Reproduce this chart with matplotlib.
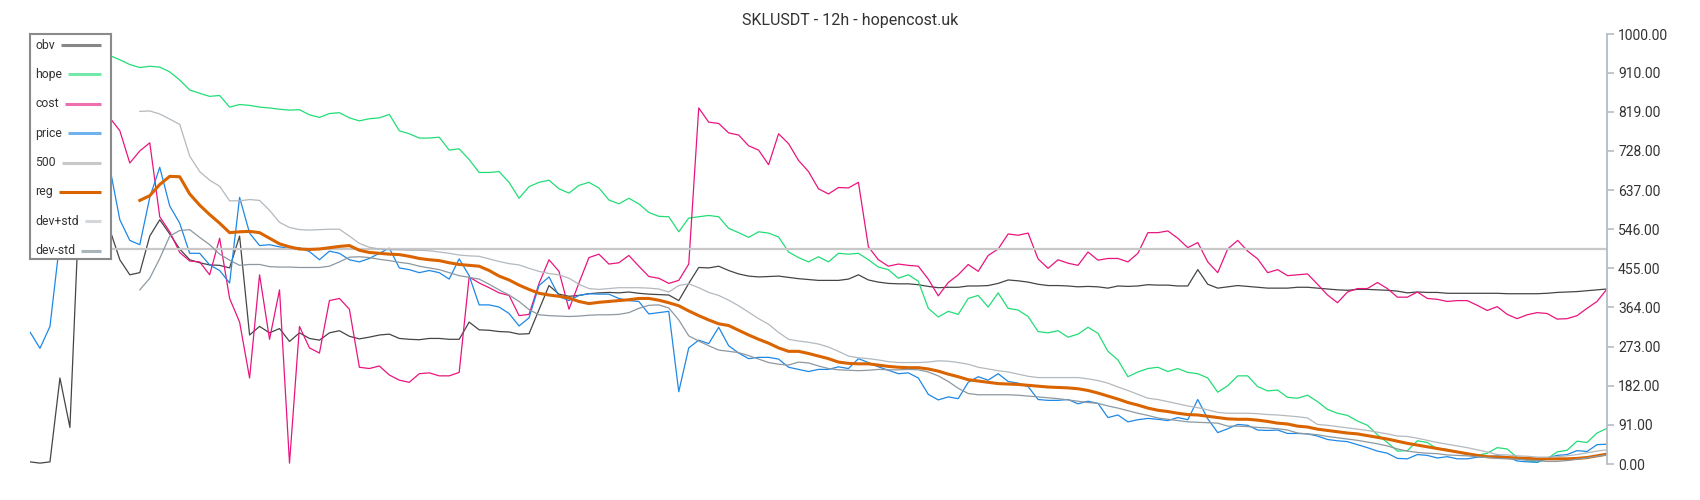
import numpy as np
import matplotlib.pyplot as plt

plt.rcParams['font.family'] = ['Roboto', 'DejaVu Sans']

title = "SKLUSDT - 12h - hopencost.uk"
nan = np.nan

# valores (un punto cada ~10 px)
obv = [5, 2, 5, 200, 85, 640, 700, 620, 545,
       475, 440, 445, 530, 568, 535, 500, 475, 468, 463, 462, 456, 530, 300, 320, 305, 315, 285, 305, 292, 288, 305, 310,
       297, 291, 295, 300, 302, 292, 290, 289, 292, 292, 290, 290, 330, 312, 311, 308, 307, 302, 303, 359,
       415, 395, 390, 392, 396, 398, 399, 398, 400, 397, 395, 394,
       393, 380, 420, 457, 456, 460, 450, 442, 437, 435, 436, 437, 434, 431, 429, 427, 427, 427, 430, 440,
       428, 423, 420, 419, 419, 417, 413, 410, 411, 411, 414,
       414, 415, 420, 428, 426, 423, 418, 415, 415, 414, 412, 413, 412, 409, 414, 413, 414, 417, 416, 416,
       414, 414, 452, 418, 409, 412, 415, 413, 411, 409, 409, 409,
       411, 411, 409, 407, 405, 404, 406, 406, 405, 404, 402, 398, 400, 399, 399, 397, 397, 397, 397, 397,
       397, 396, 396, 396, 396, 397, 399, 400, 401, 403, 405, 407]

hope = [990, 985, 980, 975, 970, 966, 962, 958, 950,
        940, 929, 922, 925, 923, 912, 893, 870, 862, 855, 857, 830, 836, 834, 830, 828, 825, 823, 824, 812, 806, 815, 817,
        805, 798, 803, 805, 813, 775, 768, 758, 758, 760, 730, 733, 708, 678, 678, 680, 655, 618, 645, 655,
        660, 640, 630, 648, 655, 642, 614, 605, 618, 605, 585, 576,
        575, 540, 572, 575, 578, 575, 548, 538, 527, 540, 537, 528, 493, 480, 470, 482, 470, 490, 488, 490,
        475, 458, 452, 432, 440, 425, 362, 342, 355, 348, 385,
        392, 365, 398, 362, 358, 343, 308, 305, 310, 295, 302, 318, 304, 262, 242, 203, 214, 222, 225, 215,
        222, 213, 210, 200, 167, 182, 205, 205, 180, 170, 172, 155,
        153, 160, 145, 127, 118, 113, 100, 90, 68, 50, 30, 31, 54, 50, 35, 34, 28, 22, 20, 25,
        38, 35, 15, 8, 4, 12, 28, 32, 53, 50, 72, 83]

cost = [880, 875, 870, 862, 855, 845, 835, 822, 805,
        775, 700, 728, 747, 575, 540, 492, 472, 470, 440, 525, 385, 330, 200, 440, 290, 405, 2, 320, 270, 258, 380, 385,
        360, 225, 222, 228, 207, 195, 190, 210, 212, 205, 205, 213, 435, 421, 410, 398, 392, 345, 348, 420,
        475, 448, 360, 421, 480, 488, 465, 468, 485, 460, 436, 432,
        420, 427, 465, 828, 795, 792, 770, 765, 740, 730, 696, 768, 745, 706, 680, 640, 628, 643, 642, 655,
        505, 475, 460, 465, 462, 460, 430, 391, 422, 440, 464,
        448, 485, 500, 535, 532, 537, 477, 455, 475, 467, 462, 493, 474, 478, 478, 470, 490, 538, 538, 542,
        525, 503, 515, 470, 445, 500, 520, 495, 477, 445, 452, 438,
        440, 442, 418, 393, 375, 400, 408, 408, 422, 408, 388, 388, 400, 385, 383, 378, 380, 380, 369, 357,
        366, 348, 338, 347, 352, 350, 337, 338, 345, 362, 378, 407]

price = [307, 269, 320, 520, 600, 680, 710, 700, 689,
         568, 520, 510, 620, 690, 600, 560, 490, 490, 463, 450, 421, 620, 537, 508, 510, 505, 501, 503, 494, 475, 495, 490,
         475, 470, 478, 490, 502, 456, 452, 445, 450, 445, 430, 477, 438, 370, 370, 365, 350, 321, 340, 415,
         435, 390, 380, 392, 396, 395, 395, 385, 380, 378, 349, 352,
         355, 168, 270, 288, 280, 318, 275, 258, 245, 248, 248, 244, 225, 220, 215, 220, 220, 226, 222, 245,
         236, 226, 218, 210, 212, 200, 162, 149, 156, 152, 190,
         203, 195, 210, 192, 188, 180, 150, 148, 148, 150, 140, 146, 141, 108, 114, 98, 103, 106, 104, 101,
         108, 103, 150, 105, 73, 82, 92, 90, 79, 78, 79, 71,
         71, 70, 65, 57, 54, 52, 45, 38, 30, 25, 13, 12, 22, 20, 14, 17, 12, 12, 16, 17,
         19, 17, 7, 5, 4, 14, 20, 22, 31, 29, 45, 46]

level_500 = 500

reg = [nan] * 11 + [
    613, 624, 650, 669, 668, 628, 602, 580, 560, 538, 540, 541, 538, 525, 512, 505, 500, 499, 500, 503, 506,
    508, 497, 492, 490, 488, 487, 483, 478, 475, 473, 468, 464, 462, 460, 450, 437, 428, 416, 406, 397,
    393, 390, 386, 378, 373, 376, 378, 380, 382, 385, 385, 381,
    375, 368, 356, 345, 335, 326, 322, 311, 300, 290, 281, 270, 262, 262, 257, 251, 245, 237, 234, 233,
    233, 230, 227, 225, 224, 224, 221, 216, 209, 203, 196,
    193, 190, 187, 186, 185, 183, 181, 179, 178, 177, 175, 171, 165, 158, 151, 143, 137, 130, 125, 122,
    118, 115, 114, 111, 108, 105, 104, 104, 102, 99, 95, 93,
    88, 86, 81, 78, 75, 72, 70, 66, 62, 58, 53, 48, 44, 40, 36, 32, 28, 24, 20, 17,
    16, 15, 14, 13, 12, 12, 12, 12, 13, 15, 19, 23]

dev_plus = [nan] * 11 + [
    820, 821, 814, 802, 790, 716, 680, 660, 646, 612, 612, 615, 613, 590, 562, 550, 545, 544, 545, 546, 546,
    530, 513, 504, 500, 498, 498, 497, 497, 496, 493, 490, 486, 484, 483, 477, 471, 466, 463, 455, 448,
    443, 440, 432, 418, 408, 406, 408, 410, 410, 410, 409, 407,
    400, 415, 419, 410, 399, 392, 381, 368, 353, 338, 325, 306, 290, 286, 283, 279, 272, 262, 251, 247,
    245, 242, 238, 236, 236, 236, 237, 240, 239, 236, 232,
    225, 221, 217, 214, 209, 204, 201, 201, 201, 201, 201, 198, 194, 188, 179, 171, 162, 153, 150, 145,
    140, 135, 131, 126, 120, 118, 118, 118, 117, 115, 114, 112,
    110, 107, 92, 90, 87, 84, 81, 78, 74, 70, 65, 64, 60, 55, 50, 46, 42, 38, 33, 28,
    22, 21, 19, 18, 16, 16, 17, 19, 22, 26, 30, 33]

dev_minus = [nan] * 11 + [
    405, 432, 478, 530, 543, 545, 527, 510, 488, 474, 462, 464, 464, 459, 458, 458, 457, 457, 457, 460, 470,
    481, 482, 480, 476, 473, 469, 466, 460, 456, 452, 445, 438, 434, 430, 418, 405, 393, 378, 359, 347,
    345, 344, 343, 344, 346, 347, 347, 348, 352, 362, 369, 370,
    363, 335, 298, 286, 275, 265, 262, 259, 252, 244, 236, 232, 230, 237, 235, 228, 222, 219, 218, 217,
    218, 220, 219, 219, 220, 219, 214, 205, 192, 176, 164,
    161, 161, 161, 161, 160, 158, 156, 154, 152, 149, 146, 143, 141, 135, 130, 124, 118, 113, 107, 104,
    101, 98, 97, 96, 95, 88, 88, 87, 85, 84, 82, 79,
    72, 70, 68, 64, 61, 58, 55, 51, 47, 42, 35, 30, 27, 25, 24, 21, 20, 19, 17, 15,
    13, 12, 11, 9, 8, 6, 6, 8, 11, 14, 18, 21]

y_ticks = [0, 91, 182, 273, 364, 455, 546, 637, 728, 819, 910, 1000]

legend_names = ['obv', 'hope', 'cost', 'price', '500', 'reg', 'dev+std', 'dev-std']
legend_colors = ['#868686', '#72e9a8', '#ee6fae', '#6fb2ee', '#c8c8c8', '#d96400', '#d3d7db', '#a9b3ba']

W, H = 1700, 500
fig = plt.figure(figsize=(W / 100, H / 100), dpi=100)
ax = fig.add_axes([30 / W, 1 - 464 / H, (1607 - 30) / W, (464 - 34) / H])

x = np.arange(len(price))
ax.plot(x, obv, color='#454545', lw=0.9)
ax.plot(x, hope, color='#22dd77', lw=0.9)
ax.plot(x, cost, color='#e8157f', lw=0.9)
ax.plot(x, price, color='#1e88e5', lw=0.9)
ax.axhline(level_500, color='#c8c8c8', lw=1.6)
ax.plot(x, reg, color='#d96400', lw=2.2)
ax.plot(x, dev_plus, color='#b3b9be', lw=0.9)
ax.plot(x, dev_minus, color='#8d98a0', lw=0.9)

ax.set_xlim(0, len(x) - 1)
ax.set_ylim(0, 1000)
ax.set_xticks([])
ax.yaxis.tick_right()
ax.set_yticks(y_ticks)
ax.set_yticklabels([f'{t:.2f}' for t in y_ticks])
for s in ['left', 'top', 'bottom']:
    ax.spines[s].set_visible(False)
ax.spines['right'].set_color('#b4bdc4')
ax.spines['right'].set_linewidth(1.3)
ax.tick_params(axis='y', colors='#b4bdc4', labelcolor='#333333', length=5, width=1.2,
               labelsize=10, pad=3)

fig.text(0.5, 1 - 21 / H, title, ha='center', va='center', fontsize=11.5, color='#333333')

# leyenda dibujada a mano (texto a la izquierda, linea a la derecha)
lax = fig.add_axes([30 / W, 1 - 259 / H, 81 / W, 225 / H])
lax.set_xlim(0, 81)
lax.set_ylim(225, 0)
lax.set_xticks([])
lax.set_yticks([])
lax.set_facecolor('white')
for s in lax.spines.values():
    s.set_color('#8a8a8a')
    s.set_linewidth(1.5)

renderer = fig.canvas.get_renderer()
for k, (name, col) in enumerate(zip(legend_names, legend_colors)):
    yy = 11 + k * 29.4
    t = lax.text(5, yy, name, ha='left', va='center', fontsize=8.8, color='#333333')
    bb = t.get_window_extent(renderer)
    x0 = bb.x1 - 30 + 6
    lax.plot([x0, 71], [yy, yy], color=col, lw=2.2, solid_capstyle='butt')

fig.savefig('out.png', dpi=100, facecolor='white')
